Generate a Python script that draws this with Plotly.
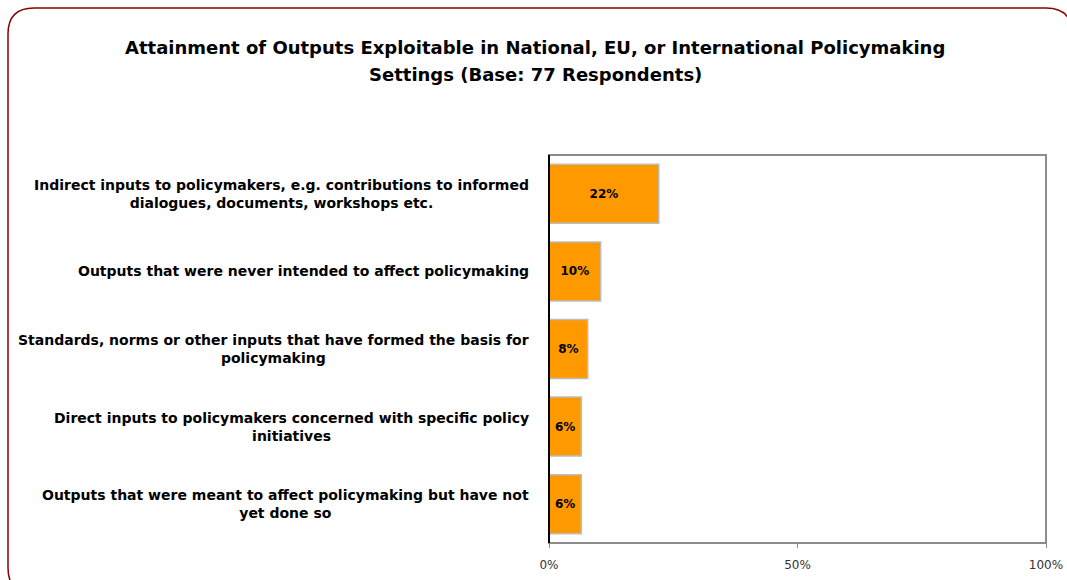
import plotly.graph_objects as go

categories = [
    "Indirect inputs to policymakers, e.g. contributions to informed<br>dialogues, documents, workshops etc.",
    "Outputs that were never intended to affect policymaking",
    "Standards, norms or other inputs that have formed the basis for<br>policymaking",
    "Direct inputs to policymakers concerned with specific policy<br>initiatives",
    "Outputs that were meant to affect policymaking but have not<br>yet done so",
]
values = [22.1, 10.4, 7.8, 6.5, 6.5]
bar_labels = ["22%", "10%", "8%", "6%", "6%"]
tick_vals = [0, 50, 100]
tick_text = ["0%", "50%", "100%"]
title_lines = ["Attainment of Outputs Exploitable in National, EU, or International Policymaking",
               "Settings (Base: 77 Respondents)"]

W, H = 1067, 580
L, R, T, B = 549, 1067 - 1046, 155, 580 - 543
PW, PH = W - L - R, H - T - B

def px(x):
    return (x - L) / PW

def py(y):
    return (H - B - y) / PH

FONT = "DejaVu Sans"
LABEL_RIGHT = 531

fig = go.Figure()
fig.add_trace(go.Bar(
    y=categories, x=values, orientation="h",
    marker=dict(color="#FF9900", line=dict(color="#BDBDBD", width=1.5)),
    width=0.76,
    text=["<b>" + t + "</b>" for t in bar_labels], textposition="inside",
    insidetextanchor="middle", textangle=0,
    textfont=dict(family=FONT, size=12, color="#000000"),
    hoverinfo="skip",
))

annotations = []
for c in categories:
    annotations.append(dict(
        x=px(LABEL_RIGHT), xref="paper", y=c, yref="y", xanchor="right", yanchor="middle",
        text="<b>" + c + "</b>", showarrow=False, align="center",
        font=dict(family=FONT, size=14, color="#000000")))

title_y = [47, 74]
for ln, yy in zip(title_lines, title_y):
    annotations.append(dict(
        x=px(535), xref="paper", y=py(yy), yref="paper", xanchor="center", yanchor="middle",
        text="<b>" + ln + "</b>", showarrow=False, align="center",
        font=dict(family=FONT, size=18, color="#000000"),
    ))

# rounded frame
x0, y0, x1, y1, r = 8, 8, 1072, 594, 26
path = (f"M {px(x0+r)},{py(y0)} L {px(x1-r)},{py(y0)} Q {px(x1)},{py(y0)} {px(x1)},{py(y0+r)} "
        f"L {px(x1)},{py(y1-r)} Q {px(x1)},{py(y1)} {px(x1-r)},{py(y1)} "
        f"L {px(x0+r)},{py(y1)} Q {px(x0)},{py(y1)} {px(x0)},{py(y1-r)} "
        f"L {px(x0)},{py(y0+r)} Q {px(x0)},{py(y0)} {px(x0+r)},{py(y0)} Z")

shapes = [
    dict(type="path", xref="paper", yref="paper", path=path,
         line=dict(color="#8B0000", width=1.5), layer="below"),
    dict(type="rect", xref="paper", yref="paper", x0=0, x1=1, y0=0, y1=1,
         line=dict(color="#8C8C8C", width=2), layer="above"),
    dict(type="line", xref="paper", yref="paper", x0=0, x1=0, y0=0, y1=1,
         line=dict(color="#000000", width=2), layer="above"),
]

fig.update_layout(
    width=W, height=H,
    margin=dict(l=L, r=R, t=T, b=B, autoexpand=False),
    paper_bgcolor="#FFFFFF", plot_bgcolor="#FFFFFF",
    showlegend=False,
    xaxis=dict(range=[0, 100], tickvals=tick_vals, ticktext=tick_text,
               showgrid=False, zeroline=False, showline=False, automargin=False,
               ticks="outside", ticklen=4, tickcolor="#8C8C8C", tickwidth=1,
               ticklabelstandoff=7,
               tickfont=dict(family=FONT, size=12, color="#333333"),
               fixedrange=True),
    yaxis=dict(categoryorder="array", categoryarray=categories, autorange="reversed",
               showticklabels=False, showgrid=False, zeroline=False, showline=False,
               automargin=False, ticks="", fixedrange=True),
    annotations=annotations,
    shapes=shapes,
    bargap=0.24,
)

fig.write_html("out.html", config={"displayModeBar": False},
               post_script="document.body.style.margin='0';document.body.style.overflow='hidden';")
